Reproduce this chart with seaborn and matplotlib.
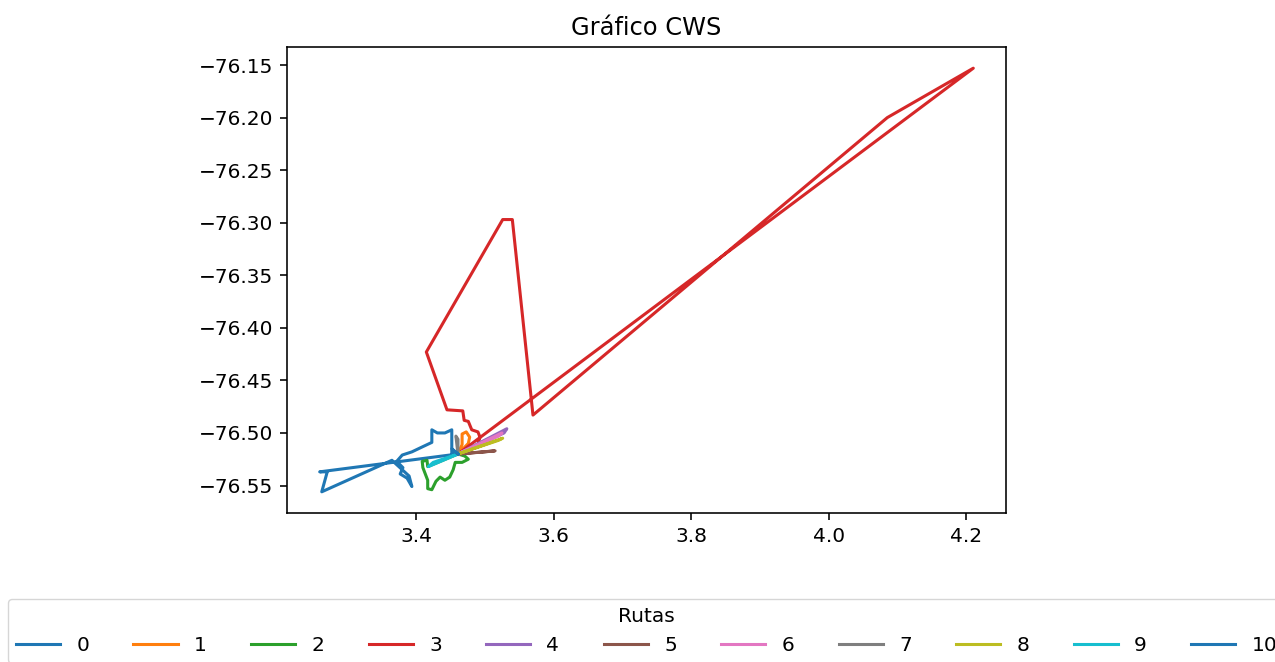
import pandas as pd
from matplotlib import pyplot as plt
import seaborn as sns

# cada ruta sale y vuelve al depósito (lat, lon)
ruta_0_lat = [3.461, 3.452, 3.452, 3.442, 3.431, 3.423, 3.423, 3.410, 3.394, 3.380,
              3.372, 3.381, 3.377, 3.387, 3.394, 3.390, 3.365, 3.263, 3.271, 3.260, 3.461]
ruta_0_lon = [-76.520, -76.519, -76.497, -76.500, -76.500, -76.497, -76.509, -76.513, -76.518, -76.521,
              -76.527, -76.533, -76.539, -76.543, -76.551, -76.541, -76.526, -76.556, -76.537, -76.537, -76.520]

ruta_1_lat = [3.461, 3.467, 3.467, 3.473, 3.478, 3.476, 3.461]
ruta_1_lon = [-76.520, -76.511, -76.501, -76.499, -76.504, -76.510, -76.520]

ruta_2_lat = [3.461, 3.471, 3.476, 3.467, 3.457, 3.454, 3.449, 3.442, 3.435, 3.429,
              3.423, 3.417, 3.417, 3.410, 3.409, 3.416, 3.417, 3.461]
ruta_2_lon = [-76.520, -76.522, -76.525, -76.528, -76.528, -76.535, -76.542, -76.545, -76.542, -76.546,
              -76.554, -76.553, -76.545, -76.533, -76.527, -76.526, -76.532, -76.520]

ruta_3_lat = [3.461, 3.490, 3.493, 3.490, 3.481, 3.476, 3.470, 3.468, 3.445, 3.415,
              3.526, 3.540, 3.570, 4.085, 4.210, 3.461]
ruta_3_lon = [-76.520, -76.511, -76.504, -76.499, -76.497, -76.489, -76.488, -76.479, -76.478, -76.423,
              -76.297, -76.297, -76.483, -76.200, -76.153, -76.520]

ruta_4_lat = [3.461, 3.532, 3.528, 3.461]
ruta_4_lon = [-76.520, -76.496, -76.500, -76.520]

ruta_5_lat = [3.461, 3.515, 3.500, 3.461]
ruta_5_lon = [-76.520, -76.517, -76.518, -76.520]

ruta_6_lat = [3.461, 3.525, 3.520, 3.461]
ruta_6_lon = [-76.520, -76.500, -76.503, -76.520]

ruta_7_lat = [3.461, 3.458, 3.461, 3.461]
ruta_7_lon = [-76.520, -76.503, -76.506, -76.520]

ruta_8_lat = [3.461, 3.526, 3.520, 3.461]
ruta_8_lon = [-76.520, -76.505, -76.507, -76.520]

ruta_9_lat = [3.461, 3.418, 3.425, 3.461]
ruta_9_lon = [-76.520, -76.532, -76.528, -76.520]

ruta_10_lat = [3.461, 3.452, 3.455, 3.461]
ruta_10_lon = [-76.520, -76.515, -76.517, -76.520]

rutas = [
    (ruta_0_lat, ruta_0_lon), (ruta_1_lat, ruta_1_lon), (ruta_2_lat, ruta_2_lon),
    (ruta_3_lat, ruta_3_lon), (ruta_4_lat, ruta_4_lon), (ruta_5_lat, ruta_5_lon),
    (ruta_6_lat, ruta_6_lon), (ruta_7_lat, ruta_7_lon), (ruta_8_lat, ruta_8_lon),
    (ruta_9_lat, ruta_9_lon), (ruta_10_lat, ruta_10_lon),
]

filas = []
for i, (lat, lon) in enumerate(rutas):
    for orden, (a, b) in enumerate(zip(lat, lon)):
        filas.append({'Ruta': str(i), 'orden': orden, 'lat': a, 'lon': b})
data = pd.DataFrame(filas)

# estilo por defecto de matplotlib, escalado a ~145 dpi
plt.rcParams.update({
    'font.size': 14.5,
    'axes.titlesize': 17.4,
    'axes.linewidth': 1.16,
    'xtick.major.size': 5, 'ytick.major.size': 5,
    'xtick.major.width': 1.16, 'ytick.major.width': 1.16,
    'xtick.major.pad': 5, 'ytick.major.pad': 5,
})

fig = plt.figure(figsize=(12.75, 6.62), dpi=100)
ax = fig.add_axes([287 / 1275, 1 - 513 / 662, 719 / 1275, 466 / 662])

sns.lineplot(data=data, x='lat', y='lon', hue='Ruta', units='Ruta', estimator=None,
             sort=False, palette='tab10', linewidth=2.2, ax=ax)

ax.set_title('Gráfico CWS', pad=8.7)
ax.set_xlabel('')
ax.set_ylabel('')
ax.set_xticks([3.4, 3.6, 3.8, 4.0, 4.2])

sns.move_legend(ax, 'upper center', bbox_to_anchor=(0.5, -0.163), ncol=11,
                title='Rutas', frameon=True, handlelength=2.2, columnspacing=2.2,
                fontsize=14.5, title_fontsize=14.5)

fig.savefig('out.png', dpi=100)
